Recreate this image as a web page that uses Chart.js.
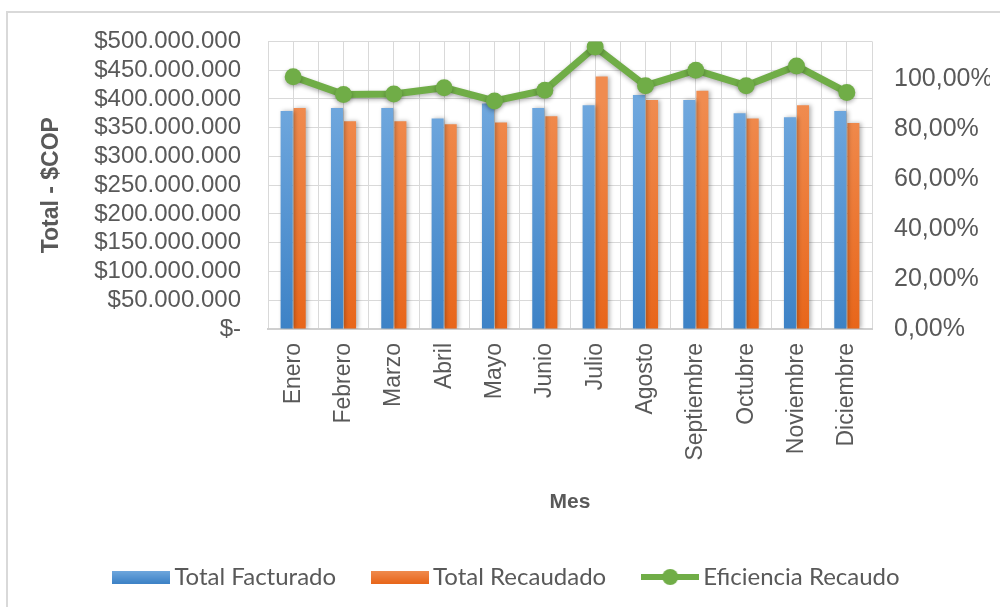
<!DOCTYPE html>
<html>
<head>
<meta charset="utf-8">
<script src="https://cdn.jsdelivr.net/npm/chart.js@4.4.1/dist/chart.umd.min.js"></script>
<style>
  html, body { margin: 0; padding: 0; background: #fff; }
  #wrap { position: relative; width: 1000px; height: 607px; overflow: hidden; }
  #frame { position: absolute; left: 6px; top: 11px; width: 1100px; height: 700px;
           border-left: 2px solid #d9d9d9; border-top: 2px solid #d9d9d9; }
  #chart { position: absolute; left: 0; top: 0; }
</style>
</head>
<body>
<div id="wrap">
  <div id="frame"></div>
  <canvas id="chart" width="1000" height="607"></canvas>
</div>
<script>
const meses = ['Enero', 'Febrero', 'Marzo', 'Abril', 'Mayo', 'Junio', 'Julio',
  'Agosto', 'Septiembre', 'Octubre', 'Noviembre', 'Diciembre'];

// pesos
const totalFacturado = [379000000, 384000000, 384000000, 366000000, 392000000, 384000000,
  389000000, 407000000, 398000000, 375000000, 368000000, 379000000];
const totalRecaudado = [384000000, 361000000, 361000000, 356000000, 359000000, 370000000,
  439000000, 398000000, 414000000, 366000000, 389000000, 358000000];

// porcentaje recaudado / facturado
const eficiencia = [100.9, 93.8, 94.0, 96.5, 91.2, 95.5, 112.8, 97.3, 103.5, 97.3, 105.2, 94.6];

const ejeTotalMax = 500000000;
const ejeTotalPaso = 50000000;
const ejePctMax = 115;
const ejePctPaso = 20;

const gris = '#595959';
const rejilla = '#d9d9d9';
const verde = '#70ad47';
const azul = ['#70a8de', '#3d82c6'];
const naranja = ['#f08c50', '#e8661a'];

function pesos(v) {
  if (v === 0) return '$-';
  return '$' + String(Math.round(v)).replace(/\B(?=(\d{3})+(?!\d))/g, '.');
}

function degradado(colores) {
  return function(ctx) {
    const area = ctx.chart.chartArea;
    if (!area) return colores[1];
    const g = ctx.chart.ctx.createLinearGradient(0, area.top + 60, 0, area.bottom);
    g.addColorStop(0, colores[0]);
    g.addColorStop(1, colores[1]);
    return g;
  };
}

// little swatches for the legend
function muestraBarra(colores) {
  const c = document.createElement('canvas');
  c.width = 58; c.height = 13;
  const x = c.getContext('2d');
  const g = x.createLinearGradient(0, 0, 0, 13);
  g.addColorStop(0, colores[0]);
  g.addColorStop(1, colores[1]);
  x.fillStyle = g;
  x.fillRect(0, 0, 58, 13);
  return c;
}
function muestraLinea() {
  const c = document.createElement('canvas');
  c.width = 58; c.height = 18;
  const x = c.getContext('2d');
  x.strokeStyle = verde;
  x.lineWidth = 6;
  x.beginPath(); x.moveTo(0, 9); x.lineTo(58, 9); x.stroke();
  x.fillStyle = verde;
  x.beginPath(); x.arc(29, 9, 8, 0, Math.PI * 2); x.fill();
  return c;
}
const muestras = [muestraBarra(azul), muestraBarra(naranja), muestraLinea()];

// soft drop shadow like the spreadsheet style
const sombra = {
  id: 'sombra',
  beforeDatasetDraw(chart, args) {
    const ctx = chart.ctx;
    ctx.save();
    ctx.shadowColor = 'rgba(0,0,0,0.3)';
    ctx.shadowBlur = 4;
    ctx.shadowOffsetX = args.meta.type === 'line' ? 0 : 2;
    ctx.shadowOffsetY = args.meta.type === 'line' ? 2 : 0;
  },
  afterDatasetDraw(chart) {
    chart.ctx.restore();
  }
};

const fuente = "'Liberation Sans', Arial, sans-serif";

new Chart(document.getElementById('chart'), {
  type: 'bar',
  data: {
    labels: meses,
    datasets: [
      {
        label: 'Total Facturado',
        data: totalFacturado,
        backgroundColor: degradado(azul),
        yAxisID: 'y',
        categoryPercentage: 0.52,
        barPercentage: 0.92,
        order: 1
      },
      {
        label: 'Total Recaudado',
        data: totalRecaudado,
        backgroundColor: degradado(naranja),
        yAxisID: 'y',
        categoryPercentage: 0.52,
        barPercentage: 0.92,
        order: 1
      },
      {
        type: 'line',
        label: 'Eficiencia Recaudo',
        data: eficiencia,
        borderColor: verde,
        backgroundColor: verde,
        borderWidth: 7,
        pointRadius: 8.5,
        pointBorderWidth: 0,
        pointBackgroundColor: verde,
        tension: 0,
        yAxisID: 'y1',
        order: 0
      }
    ]
  },
  options: {
    responsive: false,
    animation: false,
    layout: { padding: { left: 30, top: 38, right: 10, bottom: 8 } },
    plugins: {
      tooltip: { enabled: false },
      legend: {
        position: 'bottom',
        labels: {
          usePointStyle: true,
          pointStyleWidth: 42,
          padding: 43,
          color: gris,
          font: { family: "Lato, 'Open Sans', sans-serif", size: 24 },
          generateLabels(chart) {
            const items = Chart.defaults.plugins.legend.labels.generateLabels(chart);
            items.sort((a, b) => a.datasetIndex - b.datasetIndex);
            items.forEach(it => { it.pointStyle = muestras[it.datasetIndex]; });
            return items;
          }
        }
      }
    },
    scales: {
      x: {
        grid: { offset: true, color: rejilla, drawTicks: false },
        border: { color: '#cfcfcf', width: 2 },
        ticks: {
          color: gris,
          font: { family: fuente, size: 23 },
          minRotation: 90,
          maxRotation: 90,
          autoSkip: false,
          padding: 14
        },
        title: {
          display: true,
          text: 'Mes',
          color: gris,
          font: { family: fuente, size: 21, weight: 'bold' },
          padding: { top: 4, bottom: 7 }
        },
        afterFit(scale) { scale.height = 193; }
      },
      x2: {
        type: 'category',
        position: 'top',
        offset: true,
        grid: { offset: false, color: rejilla, drawTicks: false },
        border: { display: false },
        ticks: { display: false }
      },
      y: {
        position: 'left',
        min: 0,
        max: ejeTotalMax,
        grid: { color: rejilla, drawTicks: false },
        border: { display: false },
        ticks: {
          stepSize: ejeTotalPaso,
          autoSkip: false,
          color: gris,
          font: { family: fuente, size: 24 },
          padding: 27,
          callback: v => pesos(v)
        },
        title: {
          display: true,
          text: 'Total - $COP',
          color: gris,
          font: { family: fuente, size: 23, weight: 'bold' },
          padding: { top: 8, bottom: 0 }
        },
        afterFit(scale) { scale.width = 238; }
      },
      y1: {
        position: 'right',
        min: 0,
        max: ejePctMax,
        grid: { drawOnChartArea: false, drawTicks: false },
        border: { display: false },
        afterBuildTicks(scale) {
          scale.ticks = scale.ticks.filter(t => t.value % ejePctPaso === 0);
        },
        ticks: {
          stepSize: ejePctPaso,
          autoSkip: false,
          color: gris,
          font: { family: fuente, size: 25 },
          padding: 22,
          callback: v => v.toFixed(2).replace('.', ',') + '%'
        },
        afterFit(scale) { scale.width = 118; }
      }
    }
  },
  plugins: [sombra]
});
</script>
</body>
</html>
